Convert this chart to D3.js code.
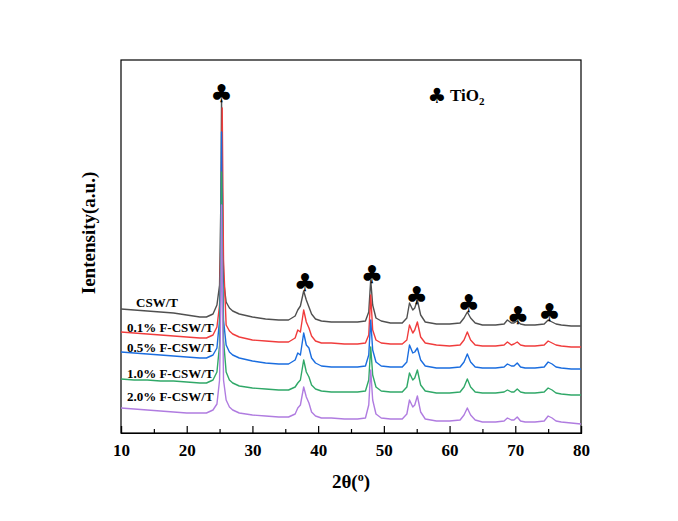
<!DOCTYPE html>
<html><head><meta charset="utf-8">
<script src="https://cdn.jsdelivr.net/npm/d3@7"></script>
<style>
html,body{margin:0;padding:0;background:#fff;}
svg{display:block;}
text{font-family:"Liberation Serif","Times New Roman",serif;font-weight:bold;fill:#000;}
</style></head><body>
<svg id="chart" width="678" height="521"></svg>
<script>
// 2θ sample positions (degrees)
const thetas = [10,12,14,16,18,20,22,23,24,24.6,25.0,25.2,25.3,25.4,25.6,26.0,26.5,27,28,30,32,34,35.5,36.5,36.9,37.3,37.8,38.2,38.6,39.0,39.6,40.5,42,44,46,47.2,47.7,48.0,48.3,48.8,49.6,51,52.8,53.5,53.9,54.4,54.7,55.1,55.6,56.3,58,60,61.6,62.2,62.7,63.2,63.9,65,67,68.3,68.8,69.4,69.8,70.3,70.8,71.5,73,74.4,75.0,75.6,76.2,77,78.5,80];

// intensities (a.u.) for each sample
const cswT = [1240,1230,1220,1210,1200,1180,1160,1160,1190,1280,1480,2330,3330,2530,1530,1310,1250,1220,1190,1160,1140,1130,1130,1170,1230,1270,1420,1330,1260,1190,1140,1120,1110,1110,1110,1120,1210,1530,1280,1150,1120,1100,1100,1150,1300,1230,1250,1330,1180,1110,1090,1090,1100,1150,1210,1150,1100,1080,1080,1090,1130,1100,1100,1120,1090,1080,1080,1090,1130,1110,1090,1080,1070,1070];
const f01 = [1010,1000,990,980,970,960,950,950,980,1060,1280,1900,2530,3250,1730,1080,1020,990,960,930,920,910,910,950,1030,1010,1230,1110,1050,970,920,900,900,890,890,900,980,1380,1030,930,900,890,890,930,1080,1000,1030,1110,960,900,880,870,880,930,1010,930,880,870,870,880,910,880,890,910,880,870,870,880,920,900,880,870,860,860];
const f05 = [810,800,790,780,770,760,750,750,780,850,1130,1730,3010,1930,1130,880,810,780,750,720,700,690,690,730,800,780,1000,880,850,750,700,670,660,660,660,670,780,1130,830,710,670,660,660,710,880,800,810,850,730,670,650,650,660,710,790,710,660,650,650,660,690,670,670,700,660,650,650,660,710,690,660,650,640,640];
const f10 = [540,530,530,520,520,510,500,500,530,610,880,1730,2610,1830,930,610,530,500,470,450,440,430,430,460,500,530,730,610,560,480,440,420,410,410,410,420,530,860,580,460,420,410,410,460,600,530,550,630,480,420,400,400,410,460,540,460,410,400,400,410,430,410,410,440,410,400,400,410,450,430,400,390,380,380];
const f20 = [250,240,230,220,210,200,200,200,230,290,530,1330,2280,1530,530,330,260,230,200,180,170,160,160,190,250,280,460,360,300,210,170,150,150,140,140,150,280,630,330,190,150,140,140,190,330,260,280,370,210,140,120,120,130,180,250,180,130,110,110,120,150,130,130,160,120,110,110,120,170,150,120,110,100,90];

const seriesNames = ["CSW/T","0.1% F-CSW/T","0.5% F-CSW/T","1.0% F-CSW/T","2.0% F-CSW/T"];
const seriesValues = [cswT, f01, f05, f10, f20];
const seriesColors = ["#505050","#f03c3c","#1a6ddf","#30a868","#b07ce0"];
const labelTheta = [12.3, 10.9, 10.9, 10.9, 10.9];
const labelLevel = [1260, 1010, 810, 550, 320];

// TiO2 peak markers
const clubThetas = [25.3, 38.0, 48.2, 55.0, 62.9, 70.4, 75.2];
const clubLevels = [3400, 1510, 1590, 1380, 1300, 1180, 1210];

const xTicks = [10,20,30,40,50,60,70,80];
const xMinor = [15,25,35,45,55,65,75];

const svg = d3.select("#chart");
const L = 121, R = 581, T = 60, B = 433;
const x = d3.scaleLinear().domain([10,80]).range([L,R]);
const y = d3.scaleLinear().domain([0,3730]).range([B,T]);

// frame
svg.append("rect").attr("x",L).attr("y",T).attr("width",R-L).attr("height",B-T)
  .attr("fill","none").attr("stroke","#000").attr("stroke-width",1.2);

// x axis
const ax = svg.append("g").attr("transform",`translate(0,${B})`)
  .call(d3.axisBottom(x).tickValues(xTicks).tickSize(-7).tickPadding(11).tickFormat(d3.format("d")));
ax.select(".domain").attr("stroke","#000").attr("stroke-width",1.2);
ax.selectAll(".tick line").attr("stroke","#000").attr("stroke-width",1.2);
ax.selectAll(".tick text").attr("font-size",17).attr("font-family","Liberation Serif, serif").attr("font-weight","bold").attr("fill","#000");
const axm = svg.append("g").attr("transform",`translate(0,${B})`)
  .call(d3.axisBottom(x).tickValues(xMinor).tickSize(-4).tickFormat(""));
axm.select(".domain").remove();
axm.selectAll(".tick line").attr("stroke","#000").attr("stroke-width",1.2);

// lines
const line = d3.line().x((d,i)=>x(thetas[i])).y(d=>y(d));
seriesValues.forEach((vals,k)=>{
  svg.append("path").datum(vals).attr("d",line)
    .attr("fill","none").attr("stroke",seriesColors[k]).attr("stroke-width",1.4)
    .attr("stroke-linejoin","round");
});

// labels
seriesNames.forEach((n,k)=>{
  svg.append("text").attr("x",x(labelTheta[k])).attr("y",y(labelLevel[k]))
    .attr("font-size",13).text(n);
});

// clubs
clubThetas.forEach((t,i)=>{
  svg.append("text").attr("x",x(t)).attr("y",y(clubLevels[i]))
    .attr("text-anchor","middle").attr("dominant-baseline","central")
    .style("font-family","DejaVu Sans").attr("font-size",25).text("\u2663");
});

// legend
svg.append("text").attr("x",437).attr("y",96).attr("text-anchor","middle")
  .attr("dominant-baseline","central").style("font-family","DejaVu Sans").attr("font-size",21).text("\u2663");
const lt = svg.append("text").attr("x",450).attr("y",101).attr("font-size",17);
lt.append("tspan").text("TiO");
lt.append("tspan").attr("font-size",11).attr("dy",4).text("2");

// axis titles
const xt = svg.append("text").attr("x",351).attr("y",488).attr("text-anchor","middle").attr("font-size",19);
xt.append("tspan").text("2θ(");
xt.append("tspan").attr("font-size",12).attr("dy",-7).text("o");
xt.append("tspan").attr("dy",7).text(")");
svg.append("text").attr("transform","translate(95,233) rotate(-90)").attr("text-anchor","middle")
  .attr("font-size",19).text("Ientensity(a.u.)");
</script>
</body></html>
